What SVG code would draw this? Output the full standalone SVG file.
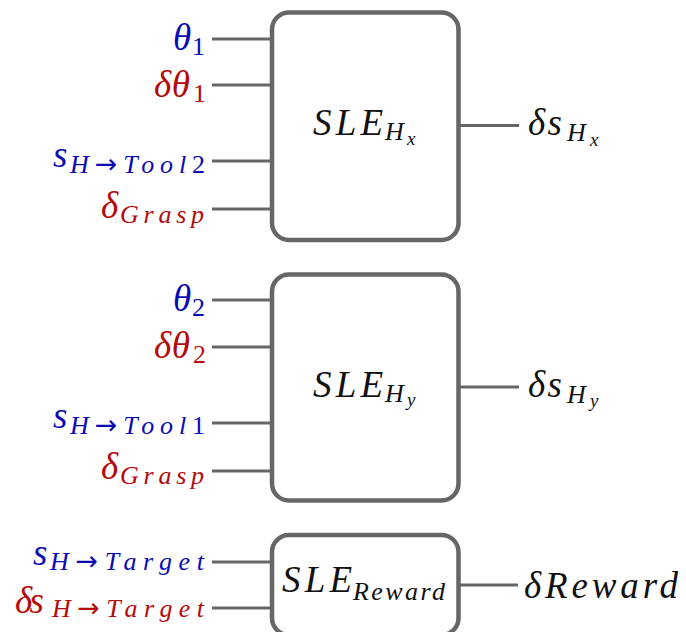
<svg xmlns="http://www.w3.org/2000/svg" width="686" height="632" viewBox="0 0 686 632">
<style>
text{font-family:"Liberation Serif","DejaVu Serif",serif;font-style:italic}
.m{font-size:37px}
.s{font-size:26px}
.ss{font-size:19px}
.n{font-style:normal}
.a{font-family:"DejaVu Sans",sans-serif;font-style:normal;font-size:27px}
.b{fill:#0a0ab4}
.r{fill:#b40a0a}
.k{fill:#111}
.box{fill:#fff;stroke:#666;stroke-width:4.5}
.ln{stroke:#666;stroke-width:3;fill:none}
</style>
<g id="connectors">
<line class="ln" x1="212" y1="39" x2="272" y2="39"/>
<line class="ln" x1="212" y1="85" x2="272" y2="85"/>
<line class="ln" x1="212" y1="161" x2="272" y2="161"/>
<line class="ln" x1="212" y1="209" x2="272" y2="209"/>
<line class="ln" x1="458" y1="125.5" x2="519" y2="125.5"/>
<line class="ln" x1="212" y1="300" x2="272" y2="300"/>
<line class="ln" x1="212" y1="347" x2="272" y2="347"/>
<line class="ln" x1="212" y1="423" x2="272" y2="423"/>
<line class="ln" x1="212" y1="471" x2="272" y2="471"/>
<line class="ln" x1="458" y1="387" x2="519" y2="387"/>
<line class="ln" x1="212" y1="562" x2="272" y2="562"/>
<line class="ln" x1="212" y1="608" x2="272" y2="608"/>
<line class="ln" x1="458" y1="585" x2="518" y2="585"/>
</g>
<g id="node-hx">
<rect class="box" x="272" y="12.5" width="186.5" height="227.5" rx="17"/>
<text class="m k" x="313" y="135" textLength="70" lengthAdjust="spacing">SLE</text>
<text class="s k" x="385" y="140">H</text>
<text class="ss k" x="407" y="145">x</text>
</g>
<g id="node-hy">
<rect class="box" x="272" y="274.5" width="186.5" height="226" rx="17"/>
<text class="m k" x="313" y="397" textLength="70" lengthAdjust="spacing">SLE</text>
<text class="s k" x="385" y="402">H</text>
<text class="ss k" x="407" y="406">y</text>
</g>
<g id="node-reward">
<rect class="box" x="272" y="535" width="186.5" height="100" rx="17"/>
<text class="m k" x="282" y="592" textLength="70" lengthAdjust="spacing">SLE</text>
<text class="s k" x="353" y="600" textLength="92" lengthAdjust="spacing">Reward</text>
</g>
<g id="inputs-hx">
<text class="m b" x="173" y="50">θ</text>
<text class="s b n" x="192" y="55">1</text>
<text class="m r" x="154" y="97" textLength="36" lengthAdjust="spacing">δθ</text>
<text class="s r n" x="193" y="102">1</text>
<text class="m b" x="53" y="167">s</text>
<text class="s b" x="70" y="173" textLength="135" lengthAdjust="spacing">H<tspan class="a">→</tspan>Tool<tspan class="n">2</tspan></text>
<text class="m r" x="101" y="218">δ</text>
<text class="s r" x="120" y="223" textLength="84" lengthAdjust="spacing">Grasp</text>
</g>
<g id="inputs-hy">
<text class="m b" x="173" y="311">θ</text>
<text class="s b n" x="192" y="316">2</text>
<text class="m r" x="154" y="358" textLength="36" lengthAdjust="spacing">δθ</text>
<text class="s r n" x="193" y="363">2</text>
<text class="m b" x="53" y="428">s</text>
<text class="s b" x="70" y="434" textLength="135" lengthAdjust="spacing">H<tspan class="a">→</tspan>Tool<tspan class="n">1</tspan></text>
<text class="m r" x="101" y="479">δ</text>
<text class="s r" x="120" y="484" textLength="84" lengthAdjust="spacing">Grasp</text>
</g>
<g id="inputs-reward">
<text class="m b" x="33" y="565">s</text>
<text class="s b" x="50" y="570" textLength="154" lengthAdjust="spacing">H<tspan class="a">→</tspan>Target</text>
<text class="m r" x="15" y="613" textLength="29" lengthAdjust="spacing">δs</text>
<text class="s r" x="52" y="617" textLength="152" lengthAdjust="spacing">H<tspan class="a">→</tspan>Target</text>
</g>
<g id="outputs">
<text class="m k" x="528" y="135" textLength="34" lengthAdjust="spacing">δs</text>
<text class="s k" x="567" y="141">H</text>
<text class="ss k" x="590" y="146">x</text>
<text class="m k" x="528" y="397" textLength="34" lengthAdjust="spacing">δs</text>
<text class="s k" x="567" y="403">H</text>
<text class="ss k" x="590" y="407">y</text>
<text class="m k" x="524" y="598" textLength="154" lengthAdjust="spacing">δReward</text>
</g>
</svg>
